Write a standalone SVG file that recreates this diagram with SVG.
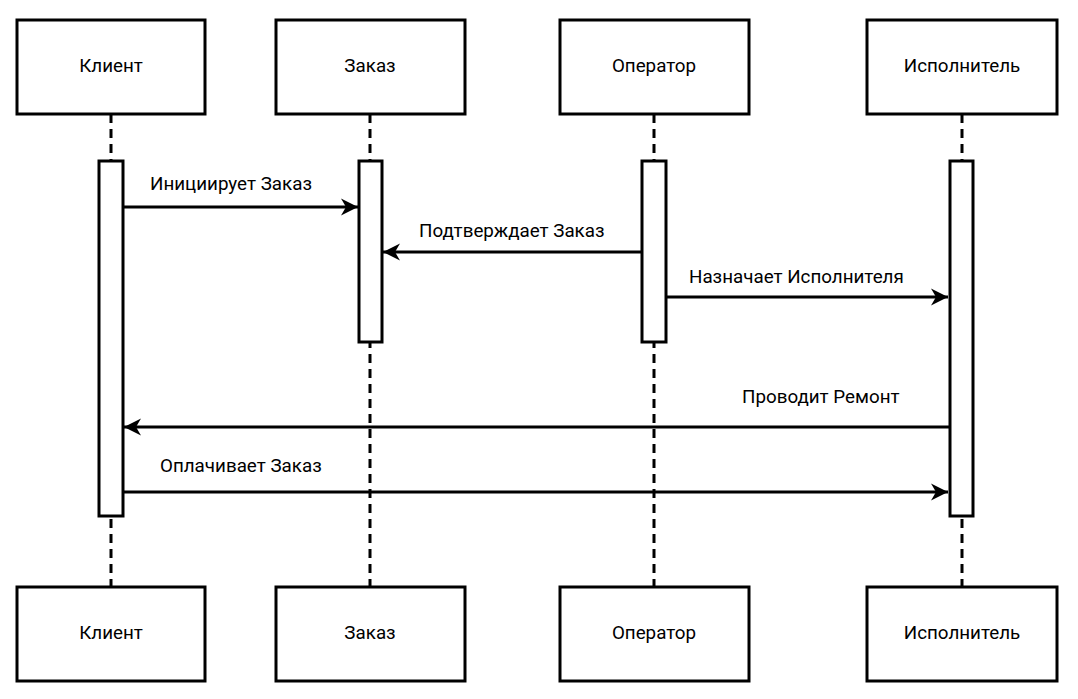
<svg xmlns="http://www.w3.org/2000/svg" width="1078" height="699" viewBox="0 0 1078 699">
  <style>
    .box { fill: #ffffff; stroke: #000000; stroke-width: 3; }
    .act { fill: #ffffff; stroke: #000000; stroke-width: 3; }
    .life { stroke: #000000; stroke-width: 3; stroke-dasharray: 9 6; fill: none; }
    .msg { stroke: #000000; stroke-width: 3; fill: none; marker-end: url(#arrow); }
    .label { font-family: Roboto, "Liberation Sans", sans-serif; font-size: 18.8px; fill: #000000; }
    .name { text-anchor: middle; }
  </style>
  <defs>
    <marker id="arrow" markerUnits="userSpaceOnUse" markerWidth="22" markerHeight="22" viewBox="-19 -11 22 22" refX="0" refY="0" orient="auto">
      <path d="M0,0 L-17,-8.5 L-12,0 L-17,8.5 Z" fill="#000000"/>
    </marker>
  </defs>

  <!-- lifelines -->
  <g id="lifelines">
    <line class="life" x1="111" y1="114" x2="111" y2="587"/>
    <line class="life" x1="370" y1="114" x2="370" y2="587"/>
    <line class="life" x1="654" y1="114" x2="654" y2="587"/>
    <line class="life" x1="962" y1="114" x2="962" y2="587"/>
  </g>

  <!-- participants: top -->
  <g id="client-top"><rect class="box" x="17" y="20" width="188" height="94"/><text class="label name" x="111" y="72">Клиент</text></g>
  <g id="order-top"><rect class="box" x="276" y="20" width="189" height="94"/><text class="label name" x="370" y="72">Заказ</text></g>
  <g id="operator-top"><rect class="box" x="560" y="20" width="189" height="94"/><text class="label name" x="654" y="72">Оператор</text></g>
  <g id="executor-top"><rect class="box" x="867" y="20" width="190" height="94"/><text class="label name" x="962" y="72">Исполнитель</text></g>

  <!-- participants: bottom -->
  <g id="client-bottom"><rect class="box" x="17" y="587" width="188" height="94"/><text class="label name" x="111" y="639">Клиент</text></g>
  <g id="order-bottom"><rect class="box" x="276" y="587" width="189" height="94"/><text class="label name" x="370" y="639">Заказ</text></g>
  <g id="operator-bottom"><rect class="box" x="560" y="587" width="189" height="94"/><text class="label name" x="654" y="639">Оператор</text></g>
  <g id="executor-bottom"><rect class="box" x="867" y="587" width="190" height="94"/><text class="label name" x="962" y="639">Исполнитель</text></g>

  <!-- activation bars -->
  <g id="client-activation"><rect class="act" x="99" y="161" width="24" height="355"/></g>
  <g id="order-activation"><rect class="act" x="359" y="161" width="23" height="181"/></g>
  <g id="operator-activation"><rect class="act" x="642" y="161" width="24" height="181"/></g>
  <g id="executor-activation"><rect class="act" x="950" y="161" width="23" height="355"/></g>

  <!-- messages -->
  <g id="connectors">
    <line class="msg" x1="123" y1="207" x2="358" y2="207"/>
    <line class="msg" x1="642" y1="252" x2="383" y2="252"/>
    <line class="msg" x1="666" y1="297" x2="948" y2="297"/>
    <line class="msg" x1="950" y1="427" x2="124" y2="427"/>
    <line class="msg" x1="123" y1="492" x2="948" y2="492"/>
  </g>
  <g id="labels">
    <text class="label" x="150" y="190">Инициирует Заказ</text>
    <text class="label" x="419" y="237">Подтверждает Заказ</text>
    <text class="label" x="689" y="283">Назначает Исполнителя</text>
    <text class="label" x="742" y="403">Проводит Ремонт</text>
    <text class="label" x="160" y="472">Оплачивает Заказ</text>
  </g>
</svg>
